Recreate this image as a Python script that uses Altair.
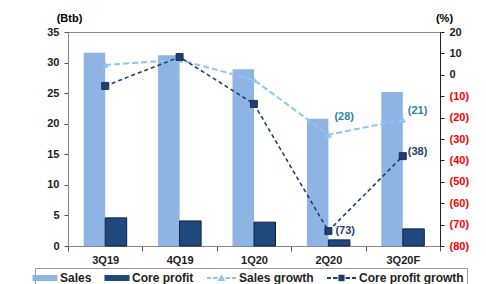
import altair as alt
import pandas as pd

cats = ["3Q19", "4Q19", "1Q20", "2Q20", "3Q20F"]
sales = [31.6, 31.2, 28.9, 20.8, 25.2]
core = [4.6, 4.1, 3.9, 1.0, 2.8]
sales_g = [4.6, 7.0, -2.4, -28, -21]
core_g = [-5.2, 8.3, -13.6, -73, -38]

series = ["Sales", "Core profit", "Sales growth", "Core profit growth"]
colors = ["#8DB4E2", "#1F497D", "#8EC5F5", "#1F3F72"]

FONT = "Liberation Sans"

bars_df = pd.DataFrame(
    [{"cat": c, "s": "Sales", "v": v} for c, v in zip(cats, sales)]
    + [{"cat": c, "s": "Core profit", "v": v} for c, v in zip(cats, core)]
)
grow_df = pd.DataFrame({"cat": cats, "sg": sales_g, "cg": core_g})
grow_df["sg_lab"] = ["(" + str(abs(int(round(v)))) + ")" if v < 0 else "" for v in sales_g]
grow_df["cg_lab"] = ["(" + str(abs(int(round(v)))) + ")" if v < 0 else "" for v in core_g]
leg_df = pd.DataFrame({"series": series, "cat": [cats[0]] * 4, "v": [-50] * 4})

# legend symbol paths (unit = 7px at symbolSize 196)
rect = "M-1.79,-0.43H1.79V0.43H-1.79Z"
dashes = ("M-2.43,-0.14H-1.86V0.14H-2.43Z M-1.57,-0.14H-0.93V0.14H-1.57Z "
          "M0.21,-0.14H0.86V0.14H0.21Z M1.14,-0.14H1.71V0.14H1.14Z")
tri = " M-0.93,0.43L-0.36,-0.5L0.21,0.43Z"
sq = " M-0.8,-0.45H0.08V0.45H-0.8Z"
paths = [rect, rect, dashes + tri, dashes + sq]

x_enc = alt.X("cat:N", sort=cats, title=None,
              scale=alt.Scale(paddingInner=0, paddingOuter=0),
              axis=alt.Axis(labelAngle=0, tickBand="extent", tickSize=5,
                            labelFontWeight="bold", labelFontSize=11, labelFont=FONT,
                            labelColor="#222", domainColor="#888", tickColor="#555",
                            labelPadding=3))

left_axis = alt.Axis(values=[0, 5, 10, 15, 20, 25, 30, 35], grid=False,
                     title="(Btb)", titleAngle=0, titleX=1, titleY=-14,
                     titleAlign="center", titleBaseline="middle",
                     titleFontSize=11, titleFont=FONT, titleFontWeight="bold",
                     labelFontSize=11, labelFont=FONT, labelFontWeight="bold",
                     labelColor="#222", domainColor="#888", tickColor="#555",
                     tickSize=4, labelPadding=5, labelOverlap=False)
ly = alt.Scale(domain=[0, 35])

xoff = alt.XOffset("s:N", sort=["Sales", "Core profit"],
                   scale=alt.Scale(domain=["Sales", "Core profit"], paddingOuter=0.73, paddingInner=0))

sales_bar = alt.Chart(bars_df).transform_filter("datum.s == 'Sales'").mark_bar(
    color=colors[0]).encode(x=x_enc, xOffset=xoff, y=alt.Y("v:Q", scale=ly, axis=left_axis))
core_bar = alt.Chart(bars_df).transform_filter("datum.s == 'Core profit'").mark_bar(
    color=colors[1], stroke="#0E2340", strokeWidth=1).encode(
    x=x_enc, xOffset=xoff, y=alt.Y("v:Q", scale=ly, axis=left_axis))

legend = alt.Legend(title=None, orient="none", legendX=-33, legendY=236,
                    direction="horizontal", columns=4, symbolSize=196,
                    strokeColor="#999", padding=3, columnPadding=12, labelOffset=8,
                    labelFontSize=12, labelFont=FONT, labelFontWeight="bold",
                    labelColor="#222", symbolStrokeWidth=0, labelLimit=200)
dummy = alt.Chart(leg_df).mark_point(filled=True, opacity=1, clip=True).encode(
    x=x_enc, y=alt.Y("v:Q", scale=ly, axis=left_axis),
    color=alt.Color("series:N", sort=series, scale=alt.Scale(domain=series, range=colors), legend=legend),
    shape=alt.Shape("series:N", sort=series, scale=alt.Scale(domain=series, range=paths), legend=legend),
)

left_layer = alt.layer(sales_bar, core_bar, dummy)

right_axis = alt.Axis(values=[20, 10, 0, -10, -20, -30, -40, -50, -60, -70, -80], grid=False,
                      orient="right", title="(%)", titleAngle=0, titleX=4, titleY=-14,
                      titleAlign="center", titleBaseline="middle",
                      titleFontSize=11, titleFont=FONT, titleFontWeight="bold",
                      labelFontSize=11, labelFont=FONT, labelFontWeight="bold",
                      labelExpr="datum.value < 0 ? '(' + abs(datum.value) + ')' : datum.value",
                      labelColor=alt.condition("datum.value < 0", alt.value("#FF0000"), alt.value("#222")),
                      domainColor="#222", tickColor="#222", tickSize=4, labelPadding=5,
                      labelOverlap=False)
ry = alt.Scale(domain=[-80, 20])


def ryenc(f):
    return alt.Y(f, scale=ry, axis=right_axis)


sg_line = alt.Chart(grow_df).mark_line(color=colors[2], strokeWidth=2, strokeDash=[6, 3]).encode(
    x=x_enc, y=ryenc("sg:Q"))
sg_pts = alt.Chart(grow_df).mark_point(shape="triangle-up", filled=True, opacity=1, size=45,
                                       color=colors[2]).encode(x=x_enc, y=ryenc("sg:Q"))
cg_line = alt.Chart(grow_df).mark_line(color=colors[3], strokeWidth=1.6, strokeDash=[4, 3]).encode(
    x=x_enc, y=ryenc("cg:Q"))
cg_pts = alt.Chart(grow_df).mark_point(shape="square", filled=True, opacity=1, size=50,
                                       color=colors[3], stroke="#0E2340", strokeWidth=0.8).encode(
    x=x_enc, y=ryenc("cg:Q"))

txt_style = dict(align="left", baseline="middle", fontSize=11, font=FONT, fontWeight="bold")
sg_t1 = alt.Chart(grow_df).transform_filter("datum.cat == '2Q20'").mark_text(
    color="#31849B", dx=6, dy=-18, **txt_style).encode(x=x_enc, y=ryenc("sg:Q"), text="sg_lab:N")
sg_t2 = alt.Chart(grow_df).transform_filter("datum.cat == '3Q20F'").mark_text(
    color="#31849B", dx=5, dy=-9, **txt_style).encode(x=x_enc, y=ryenc("sg:Q"), text="sg_lab:N")
cg_t1 = alt.Chart(grow_df).transform_filter("datum.cat == '2Q20'").mark_text(
    color=colors[3], dx=7, dy=0, **txt_style).encode(x=x_enc, y=ryenc("cg:Q"), text="cg_lab:N")
cg_t2 = alt.Chart(grow_df).transform_filter("datum.cat == '3Q20F'").mark_text(
    color=colors[3], dx=5, dy=-4, **txt_style).encode(x=x_enc, y=ryenc("cg:Q"), text="cg_lab:N")

right_layer = alt.layer(sg_line, cg_line, sg_pts, cg_pts, sg_t1, sg_t2, cg_t1, cg_t2)

chart = alt.layer(left_layer, right_layer).resolve_scale(y="independent").properties(
    width=372, height=214,
    autosize=alt.AutoSizeParams(type="none"),
    padding={"left": 60, "top": 24, "right": 38, "bottom": 38},
).configure_view(stroke="#888", strokeWidth=1)

chart.save("out.html", embed_options={"renderer": "svg", "actions": False})
